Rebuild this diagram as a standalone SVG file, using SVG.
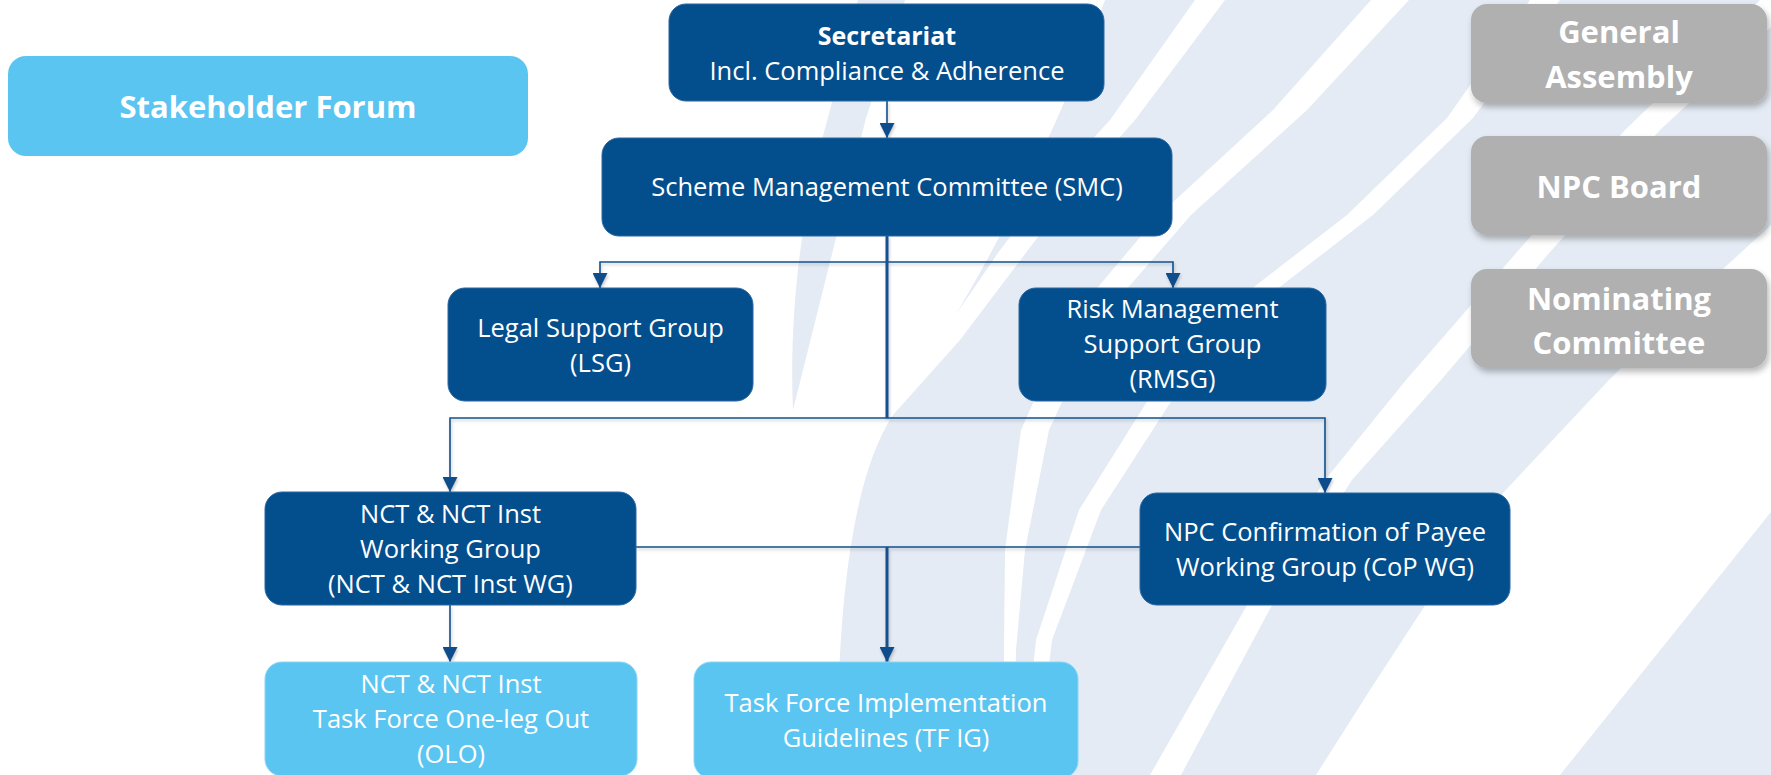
<svg xmlns="http://www.w3.org/2000/svg" width="1771" height="775" viewBox="0 0 1771 775">
  <defs>
    <style>
      .dark { fill: #034e8d; stroke: #2a66a0; stroke-width: 1; }
      .light { fill: #5bc5f1; stroke: #8ad6f6; stroke-width: 1; }
      .grey { fill: #b0b0b0; }
      .band { fill: #e4ebf4; }
      .gap { fill: #ffffff; }
      text { font-family: "Open Sans", "Liberation Sans", sans-serif; fill: #ffffff; text-anchor: middle; }
      .reg { font-size: 25.5px; }
      .bold { font-size: 25px; font-weight: bold; }
      .big { font-size: 31px; font-weight: bold; }
      .wire { fill: none; stroke: #13518e; stroke-width: 1.6; }
      .thick { stroke-width: 3; }
    </style>
    <marker id="arrow" viewBox="0 0 15 15" refX="15" refY="7.5" markerWidth="15" markerHeight="15" markerUnits="userSpaceOnUse" orient="auto">
      <path d="M0,0 L15,7.5 L0,15 Z" fill="#0c4e8c"/>
    </marker>
    <filter id="lift" x="-10%" y="-20%" width="125%" height="150%">
      <feDropShadow dx="2" dy="4" stdDeviation="3" flood-color="#000000" flood-opacity="0.28"/>
    </filter>
    <filter id="haze" x="-5%" y="-5%" width="110%" height="120%">
      <feDropShadow dx="1" dy="2" stdDeviation="1.5" flood-color="#000000" flood-opacity="0.22"/>
    </filter>
  </defs>

  <rect width="1771" height="775" fill="#ffffff"/>

  <!-- decorative swoosh bands behind the chart -->
  <g id="backdrop">
    <path class="band" d="M1105,0 H1771 V775 H838 C836,620 850,480 893,415 C950,330 1040,180 1105,0 Z"/>
    <path class="band" d="M793,410 C789,320 800,215 826,125 C838,80 848,40 858,0 L905,0 L866,118 Z"/>
    <polygon class="gap" points="893,415 935,345 1000,250 1055,180 1110,120 1195,0 1225,0 1135,120 1080,182 1028,250 960,340"/>
    <polygon class="gap" points="1371,0 1273,110 1159,215 1070,320 1021,430 1005,550 1004,650 1003,775 1013,775 1016,650 1025,550 1049,430 1100,320 1191,215 1307,110 1409,0"/>
    <polygon class="gap" points="1530,0 1447,118 1347,215 1237,300 1148,400 1079,510 1036,640 1022,775 1036,775 1052,640 1101,510 1172,400 1263,300 1373,215 1473,118 1560,0"/>
    <polygon class="gap" points="1760,0 1625,130 1517,252 1406,380 1325,480 1246,607 1150,775 1181,775 1271,607 1352,480 1441,380 1550,252 1660,130 1800,0"/>
    <polygon class="gap" points="1316,775 1370,690 1424,607 1503,493 1609,380 1700,290 1771,225 1771,512 1560,775"/>
  </g>

  <!-- connectors -->
  <g id="connectors" filter="url(#haze)">
    <path class="wire" d="M887,101 V138" marker-end="url(#arrow)"/>
    <path class="wire thick" d="M887,236 V418"/>
    <path class="wire" d="M887,262 H600 V288" marker-end="url(#arrow)"/>
    <path class="wire" d="M887,262 H1173 V288" marker-end="url(#arrow)"/>
    <path class="wire" d="M887,418 H450 V492" marker-end="url(#arrow)"/>
    <path class="wire" d="M887,418 H1325 V493" marker-end="url(#arrow)"/>
    <path class="wire" d="M636,547 H1140"/>
    <path class="wire thick" d="M887,547 V662" marker-end="url(#arrow)"/>
    <path class="wire" d="M450,605 V662" marker-end="url(#arrow)"/>
  </g>

  <g id="stakeholder-forum">
    <rect x="8" y="56" width="520" height="100" rx="18" fill="#5bc5f1"/>
    <text class="big" x="268" y="118">Stakeholder Forum</text>
  </g>

  <g id="secretariat">
    <rect class="dark" x="669" y="4" width="435" height="97" rx="17"/>
    <text class="bold" x="887" y="45">Secretariat</text>
    <text class="reg" x="887" y="80">Incl. Compliance &amp; Adherence</text>
  </g>

  <g id="smc">
    <rect class="dark" x="602" y="138" width="570" height="98" rx="17"/>
    <text class="reg" x="887" y="196">Scheme Management Committee (SMC)</text>
  </g>

  <g id="lsg">
    <rect class="dark" x="448" y="288" width="305" height="113" rx="17"/>
    <text class="reg" x="600.5" y="337">Legal Support Group</text>
    <text class="reg" x="600.5" y="372">(LSG)</text>
  </g>

  <g id="rmsg">
    <rect class="dark" x="1019" y="288" width="307" height="113" rx="17"/>
    <text class="reg" x="1172.5" y="318">Risk Management</text>
    <text class="reg" x="1172.5" y="353">Support Group</text>
    <text class="reg" x="1172.5" y="388">(RMSG)</text>
  </g>

  <g id="nct-wg">
    <rect class="dark" x="265" y="492" width="371" height="113" rx="17"/>
    <text class="reg" x="450.5" y="523">NCT &amp; NCT Inst</text>
    <text class="reg" x="450.5" y="558">Working Group</text>
    <text class="reg" x="450.5" y="593">(NCT &amp; NCT Inst WG)</text>
  </g>

  <g id="cop-wg">
    <rect class="dark" x="1140" y="493" width="370" height="112" rx="17"/>
    <text class="reg" x="1325" y="541">NPC Confirmation of Payee</text>
    <text class="reg" x="1325" y="576">Working Group (CoP WG)</text>
  </g>

  <g id="olo">
    <rect class="light" x="265" y="662" width="372" height="114" rx="17"/>
    <text class="reg" x="451" y="693">NCT &amp; NCT Inst</text>
    <text class="reg" x="451" y="728">Task Force One-leg Out</text>
    <text class="reg" x="451" y="763">(OLO)</text>
  </g>

  <g id="tf-ig">
    <rect class="light" x="694" y="662" width="384" height="116" rx="17"/>
    <text class="reg" x="886" y="712">Task Force Implementation</text>
    <text class="reg" x="886" y="747">Guidelines (TF IG)</text>
  </g>

  <g id="general-assembly">
    <rect class="grey" x="1471" y="4" width="296" height="99" rx="16" filter="url(#lift)"/>
    <text class="big" x="1619" y="43">General</text>
    <text class="big" x="1619" y="88">Assembly</text>
  </g>

  <g id="npc-board">
    <rect class="grey" x="1471" y="136" width="296" height="99" rx="16" filter="url(#lift)"/>
    <text class="big" x="1619" y="198">NPC Board</text>
  </g>

  <g id="nominating-committee">
    <rect class="grey" x="1471" y="269" width="296" height="99" rx="16" filter="url(#lift)"/>
    <text class="big" x="1619" y="310">Nominating</text>
    <text class="big" x="1619" y="354">Committee</text>
  </g>
</svg>
